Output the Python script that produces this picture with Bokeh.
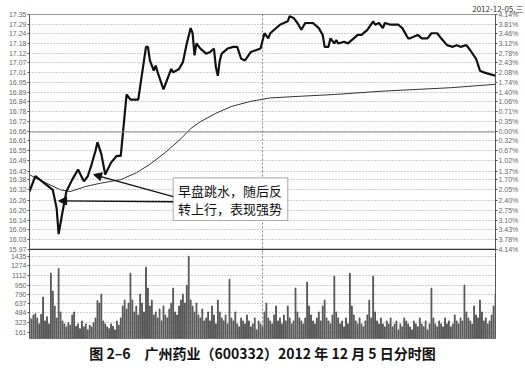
from bokeh.plotting import figure
from bokeh.layouts import column
from bokeh.models import (FixedTicker, LinearAxis, Range1d, Span, Label, Title,
                          Arrow, NormalHead, BoxAnnotation)
from bokeh.embed import file_html
from bokeh.resources import INLINE

# ---------------- data ----------------
price_ticks = [17.35, 17.29, 17.24, 17.18, 17.12, 17.07, 17.01, 16.95, 16.89, 16.84,
               16.78, 16.72, 16.66, 16.61, 16.55, 16.49, 16.43, 16.38, 16.32, 16.26,
               16.20, 16.14, 16.09, 16.03, 15.97]
price_labels = ["17.35", "17.29", "17.24", "17.18", "17.12", "17.07", "17.01", "16.95",
                "16.89", "16.84", "16.78", "16.72", "16.66", "16.61", "16.55", "16.49",
                "16.43", "16.38", "16.32", "16.26", "16.20", "16.14", "16.09", "16.03",
                "15.97"]
pct_labels = ["4.14%", "3.81%", "3.46%", "3.12%", "2.78%", "2.43%", "2.08%", "1.74%",
              "1.40%", "1.06%", "0.71%", "0.35%", "0.00%", "0.32%", "0.67%", "1.02%",
              "1.37%", "1.70%", "2.05%", "2.40%", "2.75%", "3.10%", "3.43%", "3.78%",
              "4.14%"]
vol_ticks = [161, 323, 484, 637, 790, 950, 1112, 1274, 1435]
vol_labels = ["161", "323", "484", "637", "790", "950", "1112", "1274", "1435"]

price_min = [0, 3, 12, 14, 15, 17, 19, 22, 25, 28, 30, 32, 34, 35, 37, 39, 42, 45, 47,
             50, 52, 56, 60, 61, 62, 64, 65, 66, 69, 71, 73, 74, 77, 79, 81, 83, 84, 85,
             86, 88, 91, 93, 95, 96, 97, 98, 99, 102, 105, 107, 109, 111, 114, 119, 121,
             123, 124, 129, 133, 134, 136, 138, 140, 142, 146, 149, 151, 152, 154, 155,
             157, 158, 159, 162, 164, 167, 169, 171, 174, 177, 178, 180, 182, 183, 186,
             190, 192, 195, 196, 200, 202, 205, 207, 208, 210, 212, 215, 218, 220, 222,
             225, 227, 230, 232, 234, 237, 240]
price_val = [16.31, 16.40, 16.32, 16.21, 16.06, 16.19, 16.31, 16.38, 16.44, 16.37, 16.40,
             16.47, 16.55, 16.60, 16.53, 16.41, 16.48, 16.52, 16.52, 16.88, 16.85, 16.85,
             17.16, 17.16, 17.08, 17.02, 17.05, 17.01, 16.91, 16.97, 17.03, 17.01, 17.03,
             17.07, 17.18, 17.27, 17.24, 17.11, 17.18, 17.15, 17.12, 17.13, 17.15, 17.04,
             16.99, 17.08, 17.12, 17.15, 17.16, 17.16, 17.09, 17.08, 17.13, 17.15, 17.24,
             17.21, 17.24, 17.29, 17.31, 17.34, 17.33, 17.30, 17.26, 17.30, 17.30, 17.27,
             17.23, 17.16, 17.16, 17.21, 17.18, 17.20, 17.18, 17.19, 17.18, 17.21, 17.23,
             17.23, 17.26, 17.31, 17.29, 17.30, 17.27, 17.30, 17.29, 17.29, 17.27, 17.21,
             17.21, 17.23, 17.21, 17.21, 17.24, 17.24, 17.24, 17.21, 17.17, 17.16, 17.17,
             17.16, 17.17, 17.14, 17.09, 17.02, 17.01, 17.00, 16.99]

avg_min = [0, 3, 16, 21, 29, 37, 47, 55, 62, 70, 78, 83, 88, 96, 104, 114, 124, 140,
           157, 182, 217, 240]
avg_val = [16.41, 16.39, 16.32, 16.31, 16.34, 16.36, 16.38, 16.42, 16.47, 16.54, 16.62,
           16.68, 16.72, 16.77, 16.81, 16.84, 16.86, 16.87, 16.88, 16.90, 16.92, 16.94]

volume = [420, 380, 450, 470, 400, 300, 460, 750, 350, 420, 300,
          1150, 850, 600, 400, 1230, 500, 350, 300, 250, 320,
          280, 450, 500, 260, 300, 220, 350, 250, 300, 200,
          280, 250, 320, 400, 690, 650, 800, 350, 300, 250,
          220, 300, 260, 200, 350, 280, 400, 600, 700, 550,
          650, 1150, 700, 500, 600, 450, 800, 650, 500, 1250,
          900, 600, 700, 450, 500, 400, 550, 350, 600, 450,
          400, 550, 650, 900, 500, 450, 600, 700, 800, 650,
          950, 1435, 700, 600, 500, 650, 450, 400, 550, 350,
          400, 500, 350, 600, 450, 300, 700, 500, 400, 350,
          450, 300, 1050, 400, 350, 500, 300, 250, 400, 350,
          300, 450, 350, 250, 300, 400, 200, 350, 300, 250,
          500, 650, 400, 350, 300, 450, 600, 350, 400, 300,
          450, 350, 600, 400, 300, 350, 900, 500, 400, 350,
          300, 400, 1000, 600, 450, 350, 300, 400, 500, 350,
          600, 700, 400, 350, 300, 450, 1100, 500, 400, 300,
          350, 250, 400, 300, 1150, 600, 450, 350, 300, 400,
          300, 250, 350, 450, 700, 400, 1100, 500, 350, 300,
          400, 300, 250, 350, 300, 400, 250, 300, 350, 200,
          300, 250, 400, 350, 300, 250, 200, 350, 300, 250,
          400, 300, 250, 350, 200, 300, 900, 400, 300, 250,
          350, 300, 250, 400, 300, 350, 250, 300, 450, 350,
          300, 400, 350, 950, 500, 400, 350, 300, 600, 450,
          400, 700, 500, 350, 400, 300, 350, 450, 600, 800]
vol_min = list(range(len(volume)))

prev_close = 16.66
date_text = "2012-12-05,三"
note_lines = ["早盘跳水，随后反", "转上行，表现强势"]
caption = "图 2–6　广州药业（600332）2012 年 12 月 5 日分时图"

FONT = "Liberation Sans"
CJK = "Noto Sans CJK SC"
AX = "#555555"
FRAME = "#333333"


def style_axis(ax, ticks, labels):
    ax.ticker = FixedTicker(ticks=ticks)
    ax.major_label_overrides = {t: l for t, l in zip(ticks, labels)}
    ax.major_label_text_font = FONT
    ax.major_label_text_font_size = "7px"
    ax.major_label_text_color = "#666666"
    ax.axis_line_color = AX
    ax.major_tick_line_color = AX
    ax.major_tick_out = 2
    ax.major_tick_in = 0
    ax.minor_tick_line_color = None
    ax.major_label_standoff = 1


# ---------------- price pane ----------------
p1 = figure(width=525, height=252, x_range=Range1d(0, 240),
            y_range=Range1d(15.952, 17.35), output_backend="svg",
            toolbar_location=None, min_border_left=29, min_border_right=30,
            min_border_top=14, min_border_bottom=0)
p1.xaxis.visible = False
p1.outline_line_color = None

raxis = LinearAxis()
p1.add_layout(raxis, "right")
style_axis(p1.yaxis[0], price_ticks, price_labels)
style_axis(raxis, price_ticks, pct_labels)

p1.ygrid.ticker = FixedTicker(ticks=price_ticks)
p1.ygrid.grid_line_color = "#9a9a9a"
p1.ygrid.grid_line_dash = "1 2"
p1.xgrid.ticker = FixedTicker(ticks=[120])
p1.xgrid.grid_line_color = "#888888"
p1.xgrid.grid_line_dash = "2 2"

p1.add_layout(Span(location=prev_close, dimension="width",
                   line_color="#888888", line_width=1))
p1.add_layout(Span(location=price_ticks[0], dimension="width",
                   line_color=FRAME, line_width=1))
p1.add_layout(Span(location=price_ticks[-1], dimension="width",
                   line_color=FRAME, line_width=1.2))

p1.line(avg_min, avg_val, line_color="#333333", line_width=1)
p1.line(price_min, price_val, line_color="#111111", line_width=2.2)

p1.add_layout(BoxAnnotation(left=74, right=133, top=16.39, bottom=16.14,
                            fill_color="white", fill_alpha=1,
                            line_color="#111111", line_width=1.2))
p1.add_layout(Arrow(end=NormalHead(size=8, fill_color="#111111", line_color="#111111"),
                    x_start=74, y_start=16.28, x_end=33, y_end=16.41,
                    line_color="#111111", line_width=1.3))
p1.add_layout(Arrow(end=NormalHead(size=8, fill_color="#111111", line_color="#111111"),
                    x_start=74, y_start=16.25, x_end=15, y_end=16.255,
                    line_color="#111111", line_width=1.3))
for t, yy in zip(note_lines, [16.315, 16.21]):
    p1.add_layout(Label(x=103.3, y=yy, text=t, text_align="center",
                        text_baseline="middle", text_font=CJK,
                        text_font_size="13px", text_color="#111111"))

p1.add_layout(Title(text=date_text, align="right", offset=-28, standoff=1,
                    text_font=CJK, text_font_size="8px",
                    text_font_style="normal", text_color="#333333"), "above")

# ---------------- volume pane ----------------
p2 = figure(width=525, height=119, x_range=p1.x_range,
            y_range=Range1d(55, 1497), output_backend="svg",
            toolbar_location=None, min_border_left=29, min_border_right=30,
            min_border_top=0, min_border_bottom=33)
p2.xaxis.visible = False
p2.outline_line_color = None
style_axis(p2.yaxis[0], vol_ticks, vol_labels)
raxis2 = LinearAxis(ticker=FixedTicker(ticks=[]), major_label_text_font_size="0px",
                    axis_line_color=AX, major_tick_line_color=None,
                    minor_tick_line_color=None)
p2.add_layout(raxis2, "right")
p2.ygrid.ticker = FixedTicker(ticks=vol_ticks)
p2.ygrid.grid_line_color = "#9a9a9a"
p2.ygrid.grid_line_dash = "1 2"
p2.xgrid.ticker = FixedTicker(ticks=[120])
p2.xgrid.grid_line_color = "#888888"
p2.xgrid.grid_line_dash = "2 2"
p2.add_layout(Span(location=55, dimension="width", line_color=FRAME, line_width=1.2))

p2.vbar(x=vol_min, top=volume, bottom=0, width=0.4, color="#555555")

p2.add_layout(Title(text=caption, align="center", standoff=4,
                    text_font=CJK, text_font_size="14px",
                    text_font_style="bold", text_color="#111111"), "below")

layout = column(p1, p2, spacing=0)
open("out.html", "w").write(file_html(layout, INLINE))
